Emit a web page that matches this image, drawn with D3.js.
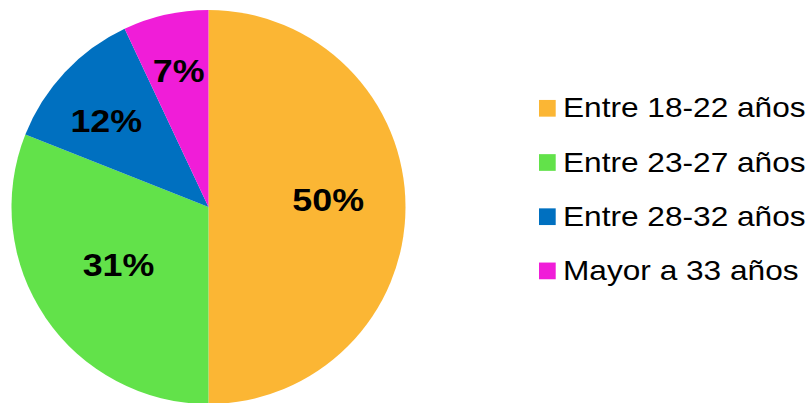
<!DOCTYPE html>
<html>
<head>
<meta charset="utf-8">
<script src="https://cdn.jsdelivr.net/npm/d3@7"></script>
<style>
  html, body { margin: 0; padding: 0; background: #fff; }
  svg { display: block; }
</style>
</head>
<body>
<svg id="chart" width="810" height="403"></svg>
<script>
// Age groups and their share of respondents (%)
const categories = ["Entre 18-22 años", "Entre 23-27 años", "Entre 28-32 años", "Mayor a 33 años"];
const values = [50, 31, 12, 7];
const colors = ["#FBB634", "#62E24A", "#0070C0", "#F01DD8"];

const svg = d3.select("#chart");
const cx = 208.5, cy = 207, radius = 197;
const fontFamily = "'Liberation Sans', Arial, sans-serif";

const pie = d3.pie().sort(null).value(d => d)(values);
const arc = d3.arc().innerRadius(0).outerRadius(radius);

const g = svg.append("g").attr("transform", `translate(${cx},${cy})`);

g.selectAll("path.slice")
  .data(pie)
  .join("path")
  .attr("class", "slice")
  .attr("d", arc)
  .attr("fill", (d, i) => colors[i]);

// Percentage labels: placed along each slice's bisector (with a small angular nudge)
const labelRadius = [120, 107, 134, 140];
const labelNudge = [-3.8, 1.4, -2.9, 0.3]; // degrees
g.selectAll("text.pct")
  .data(pie)
  .join("text")
  .attr("class", "pct")
  .attr("transform", (d, i) => {
    const a = (d.startAngle + d.endAngle) / 2 + labelNudge[i] * Math.PI / 180;
    const r = labelRadius[i];
    return `translate(${Math.sin(a) * r},${-Math.cos(a) * r}) scale(1.12,1)`;
  })
  .attr("text-anchor", "middle")
  .attr("dy", "0.358em")
  .style("font-family", fontFamily)
  .style("font-weight", "bold")
  .style("font-size", "32px")
  .attr("fill", "#000")
  .text(d => Math.round(d.value) + "%");

// Legend
const legendX = 539, legendY0 = 108.3, legendStep = 54.2, box = 16.7;
const legend = svg.append("g");
const items = legend.selectAll("g.item")
  .data(categories)
  .join("g")
  .attr("class", "item")
  .attr("transform", (d, i) => `translate(${legendX},${legendY0 + i * legendStep})`);

items.append("rect")
  .attr("x", 0)
  .attr("y", -box / 2)
  .attr("width", box)
  .attr("height", box)
  .attr("fill", (d, i) => colors[i]);

items.append("text")
  .attr("transform", "translate(24,9) scale(1.13,1)")
  .style("font-family", fontFamily)
  .style("font-size", "28px")
  .attr("fill", "#000")
  .text(d => d);
</script>
</body>
</html>
